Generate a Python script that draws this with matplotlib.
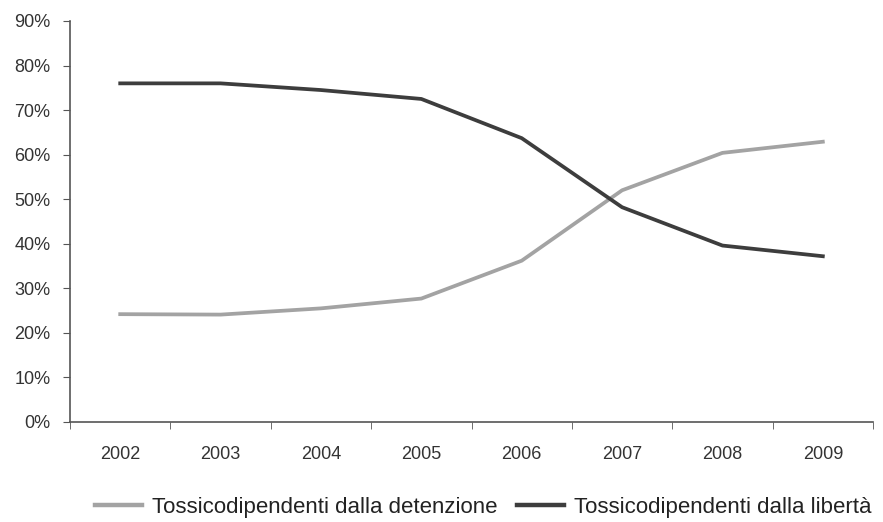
import matplotlib.pyplot as plt
import numpy as np

years = ['2002', '2003', '2004', '2005', '2006', '2007', '2008', '2009']
detenzione = [24.2, 24.1, 25.5, 27.7, 36.2, 52.0, 60.4, 62.9]
liberta = [76.0, 76.0, 74.5, 72.5, 63.7, 48.2, 39.6, 37.2]

plt.rcParams['font.family'] = ['Liberation Sans', 'DejaVu Sans']

fig = plt.figure(figsize=(8.83, 5.22), dpi=100)
ax = fig.add_axes([0.0793, 0.1916, 0.9094, 0.7682])

x = np.arange(len(years))
ax.plot(x, detenzione, color='#a3a3a3', lw=2.7, label='Tossicodipendenti dalla detenzione')
ax.plot(x, liberta, color='#3d3d3d', lw=2.7, label='Tossicodipendenti dalla libertà')

ax.set_xlim(-0.5, len(years) - 0.5)
ax.set_ylim(0, 90)
ax.set_yticks(np.arange(0, 91, 10))
ax.set_yticklabels([f'{v}%' for v in range(0, 91, 10)], fontsize=13, color='#333333')
ax.set_xticks(x)
ax.set_xticklabels(years, fontsize=13, color='#333333')
ax.set_xticks(np.arange(-0.5, len(years)), minor=True)
ax.tick_params(axis='x', which='major', length=0, pad=17)
ax.tick_params(axis='x', which='minor', length=5, direction='out', color='#555555')
ax.tick_params(axis='y', length=5, direction='out', color='#555555', pad=9)

for s in ['top', 'right']:
    ax.spines[s].set_visible(False)
for s in ['left', 'bottom']:
    ax.spines[s].set_color('#555555')
    ax.spines[s].set_linewidth(1.2)

leg = fig.legend(loc='center', bbox_to_anchor=(0.547, 0.028), ncol=2, frameon=False,
                 fontsize=16, handlelength=2.1, columnspacing=0.9, handletextpad=0.45,
                 labelcolor='#222222', borderpad=0, borderaxespad=0)
for h in leg.get_lines():
    h.set_linewidth(3.2)

fig.savefig('out.png', dpi=100, facecolor='white')
